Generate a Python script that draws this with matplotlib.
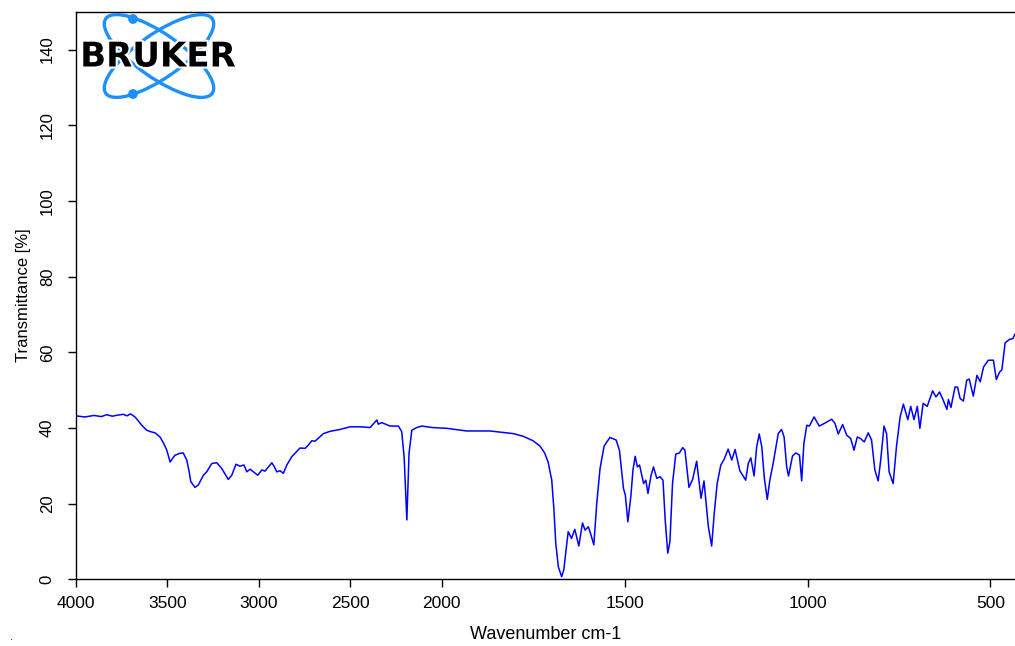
import numpy as np
import matplotlib
matplotlib.use("Agg")
import matplotlib.pyplot as plt
from matplotlib.patches import Ellipse, Circle
import matplotlib.patheffects as pe

plt.rcParams["font.family"] = ["Liberation Sans", "DejaVu Sans"]

# spectrum (wavenumber cm-1, transmittance %)
wavenumber = [
    4000, 3950, 3900, 3860, 3830, 3800, 3770, 3740, 3720, 3700,
    3676, 3660, 3639, 3612, 3590, 3566, 3539, 3520, 3502, 3484,
    3470, 3457, 3430, 3412, 3393, 3380, 3371, 3348, 3330, 3302,
    3284, 3256, 3229, 3202, 3166, 3147, 3124, 3102, 3080, 3065,
    3047, 3029, 3005, 2983, 2965, 2928, 2916, 2901, 2883, 2865,
    2846, 2819, 2774, 2746, 2728, 2710, 2692, 2646, 2610, 2555,
    2500, 2440, 2391, 2369, 2354, 2346, 2327, 2282, 2236, 2218,
    2205, 2190, 2178, 2163, 2136, 2108, 2050, 1986, 1932, 1868,
    1804, 1777, 1750, 1731, 1718, 1709, 1699, 1693, 1688, 1681,
    1672, 1666, 1660, 1654, 1645, 1636, 1625, 1615, 1608, 1599,
    1593, 1584, 1576, 1567, 1556, 1540, 1523, 1514, 1503, 1498,
    1491, 1483, 1477, 1471, 1465, 1459, 1448, 1442, 1436, 1428,
    1421, 1412, 1403, 1395, 1389, 1382, 1376, 1369, 1360, 1350,
    1341, 1335, 1324, 1314, 1303, 1291, 1283, 1271, 1262, 1255,
    1247, 1237, 1228, 1217, 1207, 1198, 1185, 1169, 1162, 1155,
    1146, 1139, 1132, 1125, 1118, 1110, 1103, 1094, 1080, 1071,
    1064, 1057, 1052, 1041, 1032, 1022, 1016, 1010, 1002, 995,
    982, 968, 952, 934, 925, 916, 904, 893, 882, 873,
    864, 855, 845, 834, 825, 816, 807, 800, 791, 784,
    777, 766, 757, 747, 738, 726, 718, 709, 700, 693,
    684, 673, 658, 649, 639, 629, 619, 615, 608, 597,
    590, 583, 574, 565, 558, 547, 537, 528, 519, 506,
    492, 484, 475, 469, 460, 448, 439, 433,
]
transmittance = [
    43.2, 42.9, 43.3, 43.0, 43.5, 43.1, 43.4, 43.6, 43.2, 43.7,
    42.9, 42.0, 40.7, 39.4, 39.0, 38.7, 37.6, 36.0, 34.1, 31.0,
    32.0, 32.8, 33.3, 33.4, 31.5, 28.5, 25.8, 24.3, 24.9, 27.5,
    28.4, 30.6, 30.8, 29.3, 26.4, 27.5, 30.4, 29.9, 30.2, 28.4,
    29.1, 28.4, 27.5, 28.9, 28.6, 30.8, 29.9, 28.4, 28.7, 28.0,
    30.2, 32.4, 34.7, 34.6, 35.5, 36.6, 36.5, 38.5, 39.1, 39.6,
    40.3, 40.3, 40.1, 41.3, 42.1, 41.0, 41.4, 40.5, 40.5, 39.0,
    32.4, 15.7, 33.3, 39.4, 40.1, 40.5, 40.1, 39.9, 39.2, 39.2,
    38.5, 37.8, 36.6, 35.2, 33.3, 31.0, 26.2, 18.3, 9.5, 3.3,
    0.7, 2.5, 7.7, 12.6, 10.8, 13.2, 8.8, 14.9, 13.0, 13.9,
    12.1, 9.1, 20.1, 29.3, 35.2, 37.5, 36.8, 34.1, 24.0, 22.3,
    15.2, 21.8, 28.9, 32.5, 29.7, 30.2, 25.3, 26.2, 22.7, 27.3,
    29.7, 26.7, 27.1, 26.2, 15.7, 6.9, 10.0, 25.3, 33.1, 33.4,
    34.8, 34.1, 24.3, 26.4, 31.2, 21.4, 26.0, 13.9, 8.8, 17.4,
    25.3, 30.2, 31.7, 34.4, 31.5, 34.3, 28.7, 26.2, 30.6, 32.1,
    27.3, 35.0, 38.4, 35.0, 26.7, 21.1, 26.2, 30.6, 38.5, 39.6,
    37.6, 29.7, 27.3, 32.6, 33.4, 32.8, 26.0, 35.9, 40.7, 40.5,
    42.9, 40.5, 41.3, 42.3, 41.2, 38.4, 40.9, 38.1, 37.2, 34.1,
    37.6, 37.2, 36.3, 38.7, 36.8, 28.9, 26.0, 31.5, 40.5, 38.5,
    28.4, 25.3, 35.0, 42.9, 46.3, 42.2, 45.7, 42.2, 45.7, 39.9,
    46.5, 45.7, 49.8, 48.2, 49.5, 47.3, 44.9, 47.5, 45.4, 50.8,
    50.8, 47.8, 47.1, 52.6, 52.9, 48.4, 53.9, 52.2, 56.1, 57.9,
    57.9, 52.8, 54.8, 55.3, 62.5, 63.4, 63.6, 64.8,
]
xticks = [4000, 3500, 3000, 2500, 2000, 1500, 1000, 500]
yticks = [0, 20, 40, 60, 80, 100, 120, 140]


# OPUS style axis: the range above 2000 cm-1 is drawn at half scale
def fwd(x):
    x = np.asarray(x, dtype=float)
    return np.where(x > 2000, 2000 + (x - 2000) / 2, x)


def inv(u):
    u = np.asarray(u, dtype=float)
    return np.where(u > 2000, 2000 + (u - 2000) * 2, u)


W, H = 1015, 646
fig = plt.figure(figsize=(W / 100, H / 100), dpi=100)
ax = fig.add_axes([75.7 / W, (H - 579.3) / H, 1 - 75.7 / W, (579.3 - 11.7) / H])
ax.set_xscale("function", functions=(fwd, inv))
ax.plot(wavenumber, transmittance, color="#0000ff", lw=1.1)
ax.set_xlim(4000, 433)
ax.set_ylim(0, 150)
ax.set_xticks(xticks)
ax.set_yticks(yticks)
ax.minorticks_off()
ax.spines["right"].set_visible(False)
for s in ("left", "top", "bottom"):
    ax.spines[s].set_linewidth(1.0)
ax.tick_params(axis="x", direction="out", length=6, width=1, labelsize=12.5, pad=6)
ax.tick_params(axis="y", direction="out", length=6, width=1, labelsize=12, pad=9)
for lab in ax.get_yticklabels():
    lab.set_rotation(90)
    lab.set_va("center")
ax.set_xlabel("Wavenumber cm-1", fontsize=13)
ax.set_ylabel("Transmittance [%]", fontsize=12)
ax.xaxis.set_label_coords(0.5, -0.083)
ax.yaxis.set_label_coords(-0.048, 0.5)

# Bruker logo
logo = fig.add_axes([75 / W, 1 - 105 / H, 170 / W, 95 / H])
logo.set_xlim(75, 245)
logo.set_ylim(105, 10)
logo.axis("off")
blue = "#1e8fff"
for ang in (35, -35):
    logo.add_patch(Ellipse((159, 56), 130, 44, angle=ang, fill=False,
                           ec=blue, lw=2.4))
logo.add_patch(Circle((133, 19), 4.2, color=blue))
logo.add_patch(Circle((133, 94), 4.2, color=blue))
logo.text(158, 57, "BRUKER", ha="center", va="center", fontsize=24.5,
          fontweight="bold", family="DejaVu Sans", color="black",
          path_effects=[pe.withStroke(linewidth=3, foreground="white")])

fig.text(10 / W, 1 - 640 / H, ".", fontsize=8)

fig.savefig("out.png", dpi=100)
